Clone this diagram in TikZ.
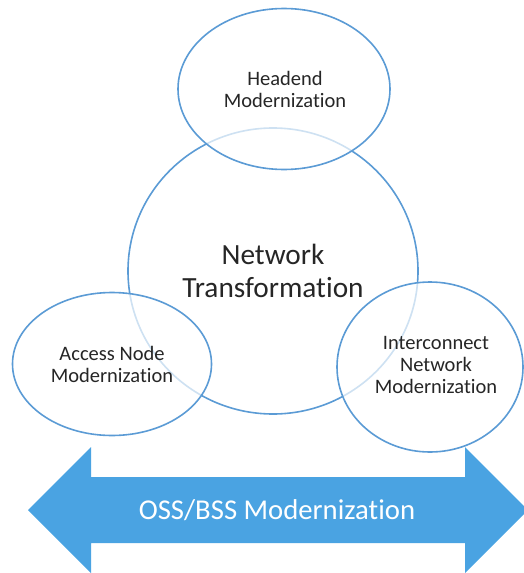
\documentclass[tikz,border=0pt]{standalone}
\usepackage{fontspec}
\setmainfont[Ligatures=NoCommon]{Carlito}
\usepackage{tikz}
\usetikzlibrary{shapes.geometric}

\definecolor{ringblue}{RGB}{91,155,213}
\definecolor{bandblue}{RGB}{74,163,226}
\definecolor{labelgray}{RGB}{38,38,38}

\begin{document}
\begin{tikzpicture}[x=1pt, y=-1pt,
		ring/.style={ellipse, draw=ringblue, line width=1.6pt, fill=white, fill opacity=0.7, inner sep=0pt},
		lbl/.style={align=center, text=labelgray, font=\fontsize{20.5}{22}\selectfont},
		biglbl/.style={align=center, text=labelgray, font=\fontsize{29.3}{33}\selectfont}]
		
		\useasboundingbox (0,0) rectangle (523,573);
		
		% band along the bottom
		\fill[bandblue] (28,510) -- (91,447) -- (91,477) -- (465,477) -- (465,447)
			-- (528,510) -- (465,573) -- (465,543) -- (91,543) -- (91,573) -- cycle;
		\node[text=white, font=\fontsize{28.7}{30}\selectfont] (oss) at (277,510) {OSS/BSS Modernization};
		
		% rings
		\node[ring, minimum width=290, minimum height=286] (core) at (273,271) {};
		\node[ring, minimum width=212, minimum height=161] (head) at (284,89) {};
		\node[ring, minimum width=199, minimum height=143] (access) at (112,364) {};
		\node[ring, minimum width=186, minimum height=170] (inter) at (430,367) {};
		
		\node[biglbl] (coretxt) at (273,271) {Network\\Transformation};
		\node[lbl] (headtxt) at (285,89) {Headend\\Modernization};
		\node[lbl] (accesstxt) at (112,364) {Access Node\\Modernization};
		\node[lbl] (intertxt) at (436,365) {Interconnect\\Network\\Modernization};
		
	\end{tikzpicture}
\end{document}
